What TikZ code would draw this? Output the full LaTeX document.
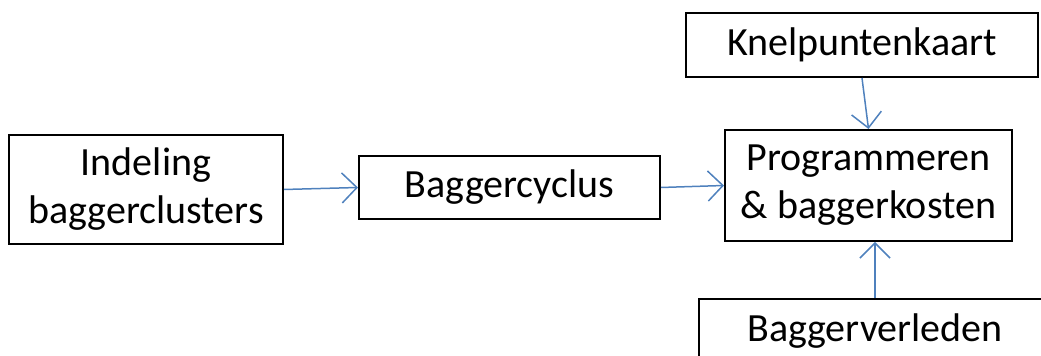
\documentclass[tikz,border=0pt]{standalone}
\usepackage{fontspec}
\setmainfont{Carlito}
\usetikzlibrary{arrows.meta}
\definecolor{arrowblue}{RGB}{79,129,189}
\tikzset{
  box/.style={draw=black, line width=1pt, inner sep=0pt, align=center,
    font=\fontsize{20}{24}\selectfont},
  arr/.style={draw=arrowblue, line width=0.75pt,
    -{Straight Barb[length=7.5pt,width=15pt,line width=0.75pt]}}
}
\begin{document}
\begin{tikzpicture}[x=0.5pt,y=-0.5pt]
    \clip (0,0) rectangle (1041,356);
    \node[box, minimum width=137pt, minimum height=54.5pt] (indeling) at (146,189.5) {Indeling\\baggerclusters};
    \node[box, minimum width=150.5pt, minimum height=31.5pt] (cyclus) at (509.5,187.5) {Baggercyclus};
    \node[box, minimum width=143.5pt, minimum height=55.5pt] (prog) at (868.5,185.5) {Programmeren\\\& baggerkosten};
    \node[box, minimum width=176pt, minimum height=32pt] (knel) at (862,45) {Knelpuntenkaart};
    \node[box, minimum width=176pt, minimum height=32pt] (verleden) at (875,331) {Baggerverleden};
    \draw[arr] (indeling.east) -- (cyclus.west);
    \draw[arr] (cyclus.east) -- (prog.west);
    \draw[arr] (knel.south) -- (prog.north);
    \draw[arr] (verleden.north) -- (verleden.north |- prog.south);
\end{tikzpicture}
\end{document}
